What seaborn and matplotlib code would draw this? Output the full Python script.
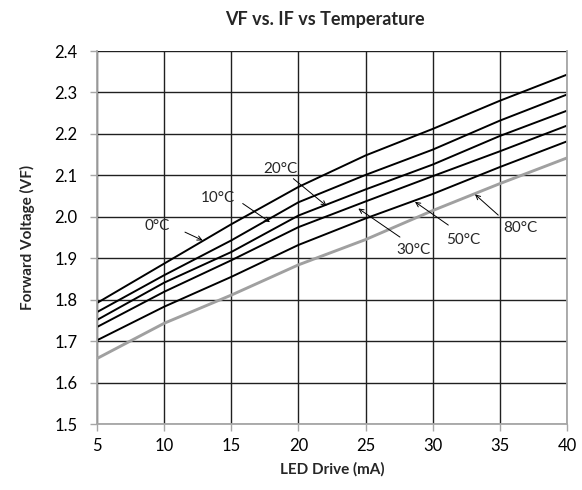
import numpy as np
import pandas as pd
import matplotlib
matplotlib.use("Agg")
import matplotlib.pyplot as plt
import seaborn as sns

# ---- data ----
drive_ma = [5, 10, 15, 20, 25, 30, 35, 40]
vf_0c = [1.792, 1.887, 1.982, 2.072, 2.148, 2.212, 2.280, 2.343]
vf_10c = [1.770, 1.859, 1.943, 2.035, 2.101, 2.162, 2.232, 2.295]
vf_20c = [1.751, 1.841, 1.915, 2.003, 2.066, 2.126, 2.195, 2.256]
vf_30c = [1.734, 1.819, 1.895, 1.975, 2.037, 2.098, 2.158, 2.220]
vf_50c = [1.702, 1.783, 1.855, 1.932, 1.996, 2.055, 2.120, 2.182]
vf_80c = [1.658, 1.743, 1.811, 1.884, 1.945, 2.015, 2.080, 2.142]
temps = ["0°C", "10°C", "20°C", "30°C", "50°C", "80°C"]
x_ticks = [5, 10, 15, 20, 25, 30, 35, 40]
y_ticks = [1.5, 1.6, 1.7, 1.8, 1.9, 2.0, 2.1, 2.2, 2.3, 2.4]
title = "VF vs. IF vs Temperature"
x_label = "LED Drive (mA)"
y_label = "Forward Voltage (VF)"

# label positions (text) and arrow tails / heads in data coords
label_text_xy = [(9.45, 1.978), (14.03, 2.046), (18.63, 2.116),
                 (28.55, 1.919), (32.27, 1.943), (36.50, 1.974)]
arrow_tail_xy = [(11.55, 1.963), (15.85, 2.032), (19.62, 2.092),
                 (27.56, 1.951), (31.16, 1.980), (34.88, 2.004)]
arrow_head_xy = [(12.87, 1.943), (17.88, 1.987), (22.10, 2.026),
                 (24.46, 2.020), (28.68, 2.036), (33.15, 2.054)]

series = [vf_0c, vf_10c, vf_20c, vf_30c, vf_50c, vf_80c]
df = pd.DataFrame({
    "drive": np.tile(drive_ma, len(temps)),
    "vf": np.concatenate(series),
    "temp": np.repeat(temps, len(drive_ma)),
})

sns.set_theme(style="white")
plt.rcParams['font.family'] = ['Lato', 'DejaVu Sans']

fig = plt.figure(figsize=(5.82, 4.90), dpi=100)
ax = fig.add_axes([97 / 582, 1 - 424 / 490, (567 - 97) / 582, (424 - 51) / 490])

palette = {t: "black" for t in temps}
palette["80°C"] = "#a0a0a0"
sns.lineplot(data=df, x="drive", y="vf", hue="temp", palette=palette,
             legend=False, ax=ax, linewidth=1.4)
ax.get_lines()[-1].set_linewidth(2.1)

ax.set_xlim(5, 40)
ax.set_ylim(1.5, 2.4)
ax.set_xticks(x_ticks)
ax.set_yticks(y_ticks)
ax.set_yticklabels([f"{v:.1f}" for v in y_ticks])
ax.grid(True, color="#202020", linewidth=1.0)
ax.set_axisbelow(True)

for s in ["left", "bottom", "right"]:
    ax.spines[s].set_color("#a6a6a6")
    ax.spines[s].set_linewidth(1.3)
ax.spines["top"].set_visible(False)
ax.tick_params(axis="both", which="major", length=5, width=1, color="#a6a6a6",
               labelsize=12, labelcolor="black", direction="out",
               bottom=True, left=True)
ax.tick_params(axis="y", pad=9)
ax.tick_params(axis="x", pad=5)

ax.set_xlabel(x_label, fontsize=11, fontweight="bold", labelpad=6)
ax.set_ylabel(y_label, fontsize=11, fontweight="bold", labelpad=14)
fig.text(325 / 582, 1 - 20 / 490, title, fontsize=13, fontweight="bold",
         ha="center", va="center")

for t, txy, tail, head in zip(temps, label_text_xy, arrow_tail_xy, arrow_head_xy):
    ax.text(txy[0], txy[1], t, fontsize=11, ha="center", va="center")
    ax.annotate("", xy=head, xytext=tail,
                arrowprops=dict(arrowstyle="->", color="black", lw=0.7,
                                shrinkA=0, shrinkB=0, mutation_scale=8))

fig.savefig("out.png", dpi=100)
